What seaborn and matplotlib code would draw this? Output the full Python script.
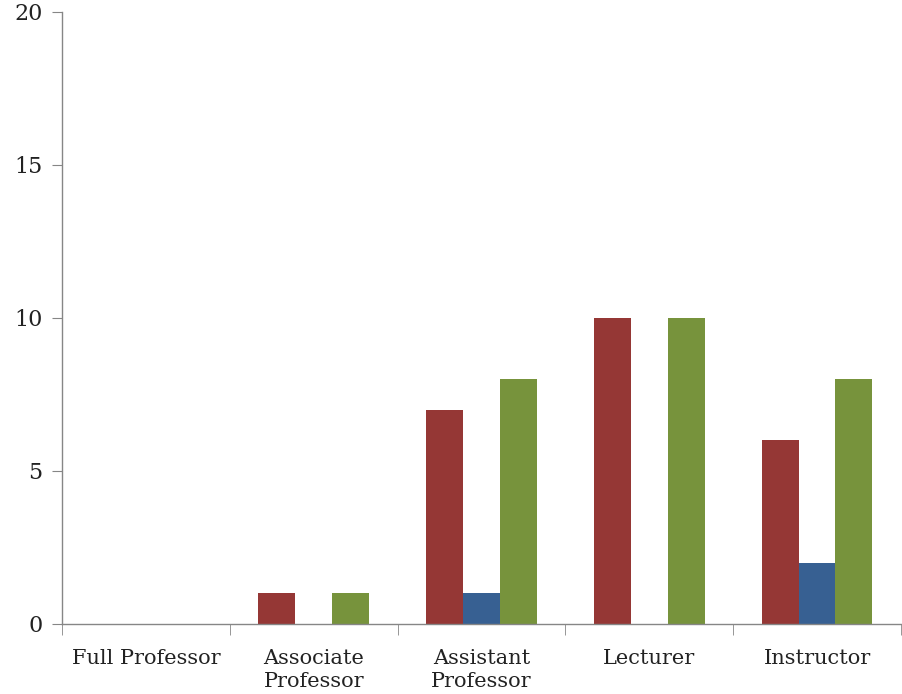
import matplotlib
matplotlib.use("Agg")
import matplotlib.pyplot as plt
import seaborn as sns
import pandas as pd
import numpy as np

# data
categories = ["Full Professor", "Associate\nProfessor", "Assistant\nProfessor", "Lecturer", "Instructor"]
series_names = ["Series 1", "Series 2", "Series 3"]
series1 = [0, 1, 7, 10, 6]
series2 = [0, 0, 1, 0, 2]
series3 = [0, 1, 8, 10, 8]
colors = ["#953735", "#376092", "#77933C"]

df = pd.DataFrame({
    "category": categories * 3,
    "series": np.repeat(series_names, len(categories)),
    "value": series1 + series2 + series3,
})

sns.set_style("white")
plt.rcParams["font.family"] = ["DejaVu Serif"]

fig = plt.figure(figsize=(9.03, 6.94), dpi=100)
ax = fig.add_axes([0.0687, 0.101, 0.929, 0.882])

sns.barplot(data=df, x="category", y="value", hue="series", order=categories,
            hue_order=series_names, palette=colors, width=0.66, saturation=1,
            linewidth=0, legend=False, ax=ax)

ax.set_xlim(-0.5, len(categories) - 0.5)
ax.set_ylim(0, 20)
ax.set_yticks([0, 5, 10, 15, 20])
ax.set_xlabel("")
ax.set_ylabel("")

for s in ["top", "right"]:
    ax.spines[s].set_visible(False)
for s in ["left", "bottom"]:
    ax.spines[s].set_color("#868686")
    ax.spines[s].set_linewidth(1)

ax.tick_params(axis="y", length=7, color="#868686", labelsize=16, pad=7, direction="out", left=True)
ax.tick_params(axis="x", which="major", length=0, labelsize=15, pad=18)
ax.set_xticks(np.arange(-0.5, len(categories)), minor=True)
ax.tick_params(axis="x", which="minor", length=8, color="#868686", direction="out", bottom=True)
for lbl in ax.get_xticklabels() + ax.get_yticklabels():
    lbl.set_color("#222222")
for lbl in ax.get_xticklabels():
    lbl.set_linespacing(1.25)

fig.savefig("out.png", dpi=100)
